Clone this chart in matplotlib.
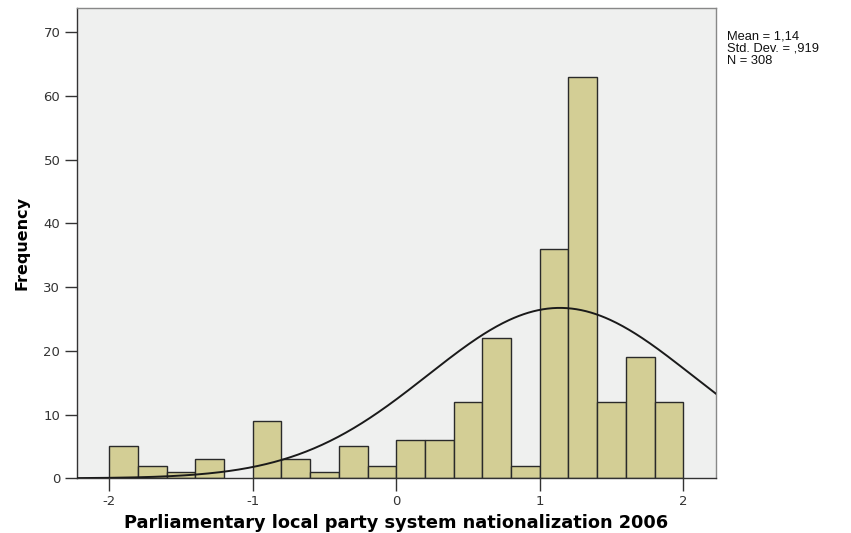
import numpy as np
import matplotlib
matplotlib.use("Agg")
import matplotlib.pyplot as plt

bin_left = [-2.0, -1.8, -1.6, -1.4, -1.2, -1.0, -0.8, -0.6, -0.4, -0.2,
            0.0, 0.2, 0.4, 0.6, 0.8, 1.0, 1.2, 1.4, 1.6, 1.8]
counts = [5, 2, 1, 3, 0, 9, 3, 1, 5, 2,
          6, 6, 12, 22, 2, 36, 63, 12, 19, 12]
bin_width = 0.2
mean, sd, n = 1.14, 0.919, 308
xticks = [-2, -1, 0, 1, 2]
yticks = [0, 10, 20, 30, 40, 50, 60, 70]

fig = plt.figure(figsize=(8.51, 5.33), dpi=100)
ax = fig.add_axes([0.0905, 0.1026, 0.7505, 0.8824])
ax.set_facecolor("#EFF0EF")

for l, c in zip(bin_left, counts):
    if c > 0:
        ax.bar(l, c, width=bin_width, align="edge", color="#D3CE95",
               edgecolor="#2a2a2a", linewidth=1.0, zorder=2)

xlo, xhi = -2.225, 2.226
xs = np.linspace(xlo, xhi, 400)
ys = n * bin_width / (sd * np.sqrt(2 * np.pi)) * np.exp(-0.5 * ((xs - mean) / sd) ** 2)
ax.plot(xs, ys, color="#1a1a1a", linewidth=1.4, zorder=3)

ax.set_xlim(xlo, xhi)
ax.set_ylim(0, 73.8)
ax.set_xticks(xticks)
ax.set_xticklabels([("-" + str(abs(t))) if t < 0 else str(t) for t in xticks])
ax.set_yticks(yticks)
ax.tick_params(direction="out", length=9, width=1, colors="#333333",
               labelsize=9.5, labelcolor="#333333", pad=3)
for s in ax.spines.values():
    s.set_color("#333333")
    s.set_linewidth(1.0)
ax.spines["right"].set_color("#888888")
ax.spines["top"].set_color("#888888")

ax.set_xlabel("Parliamentary local party system nationalization 2006",
              fontsize=12.8, fontweight="bold", family="DejaVu Sans", labelpad=4)
ax.set_ylabel("Frequency", fontsize=11.5, fontweight="bold",
              family="Liberation Sans Narrow", labelpad=10)

fig.text(0.854, 0.942, "Mean = 1,14\nStd. Dev. = ,919\nN = 308",
         fontsize=9.3, va="top", ha="left", linespacing=1.0,
         family="Liberation Sans", color="#111111")

fig.savefig("out.png", dpi=100, facecolor="white")
